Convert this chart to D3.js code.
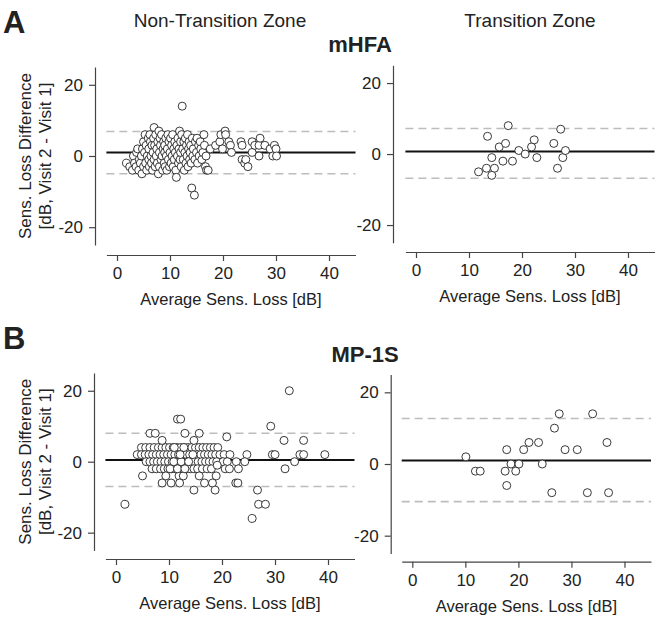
<!DOCTYPE html>
<html><head><meta charset="utf-8">
<script src="https://cdn.jsdelivr.net/npm/d3@7"></script>
<style>body{margin:0;background:#fff}svg{display:block;font-family:"Liberation Sans",Arial,sans-serif}</style>
</head><body><svg id="c" width="666" height="621"></svg>
<script>
// ---------- data ----------
const xTicks = [0, 10, 20, 30, 40];
const yTicks = [-20, 0, 20];
const xDomain = [-2, 45];
const yDomain = [-25, 25];

const mhfaNonTransition = [
[1.8,-2],[2.4,-3],[2.9,-4],[3.1,0],[3.3,-2],[3.6,-3],[3.7,1],[3.9,2],[4.1,-4],[4.2,-1],[4.4,-2],[4.6,0],[4.7,-5],[4.8,2],[5.0,4],[5.0,-3],[5.2,1],[5.3,6],[5.4,-2],[5.5,3],[5.6,-4],[5.7,0],[5.9,5],[6.0,2],[6.0,-1],[6.1,-3],[6.2,6],[6.3,4],[6.4,0],[6.5,-2],[6.6,3],[6.7,-4],[6.8,1],[6.9,5],[7.0,8],[7.0,-1],[7.1,3],[7.2,-3],[7.3,6],[7.4,0],[7.5,2],[7.6,-2],[7.7,4],[7.8,-5],[7.9,7],[8.0,1],[8.0,-3],[8.1,5],[8.2,3],[8.3,-1],[8.4,6],[8.5,0],[8.6,-4],[8.7,2],[8.8,4],[8.9,-2],[9.0,1],[9.0,3],[9.1,-3],[9.2,5],[9.3,0],[9.4,-4],[9.5,2],[9.6,6],[9.7,-1],[9.8,4],[9.9,-3],[10.0,1],[10.1,5],[10.2,-2],[10.3,3],[10.4,0],[10.5,6],[10.6,-3],[10.7,2],[10.8,-1],[10.9,4],[11.0,1],[11.1,-4],[11.2,-6],[11.3,3],[11.4,0],[11.5,5],[11.6,-2],[11.7,2],[11.8,7],[11.9,-1],[12.0,4],[12.0,1],[12.1,-3],[12.2,6],[12.3,14],[12.4,2],[12.5,-1],[12.6,4],[12.7,-4],[12.8,1],[12.9,5],[13.0,-2],[13.1,3],[13.2,0],[13.3,6],[13.4,-3],[13.5,2],[13.6,4],[13.7,-1],[13.8,1],[13.9,3],[14.0,-2],[14.1,-9],[14.2,5],[14.3,0],[14.4,2],[14.6,-11],[14.7,-1],[14.8,4],[15.0,1],[15.1,5],[15.2,-2],[15.4,3],[15.5,0],[15.7,4],[15.8,2],[16.0,-1],[16.2,1],[16.4,6],[16.5,3],[16.7,-3],[16.9,-4],[17.2,-4],[16.8,0],
[17.6,2],[18.6,3],[19.4,4],[19.6,6],[19.9,2],[20.4,7],[20.5,6],[21.1,4],[21.4,3],[21.6,1],[23.4,4],[23.6,3],[23.6,-1],[24.1,-2],[24.3,-1],[24.7,-3],[25.5,4],[25.5,1],[26.0,3],[26.8,3],[27.0,5],[26.8,0],[27.9,3],[28.9,2],[29.4,0],[29.7,3],[30.0,2],[30.1,0]
];

const mhfaTransition = [
[11.8,-5],[13.5,5],[13.3,-4],[14.3,-1],[14.8,-4],[14.3,-6],[15.7,2],[16.9,3],[16.4,-2],[17.4,8],[18.2,-2],[19.4,1],[20.6,0],[21.8,2],[22.3,4],[22.8,-1],[26.0,3],[27.3,7],[26.7,-4],[27.7,-1],[28.2,1]
];

const mp1sNonTransition = [
[4.8,4],[5.6,4],[6.4,4],[7.2,4],[8.0,4],[8.7,4],[9.4,4],[10.1,4],[10.8,4],[11.5,4],[12.2,4],[12.9,4],[13.6,4],[14.3,4],[15.0,4],[15.7,4],[16.4,4],[17.1,4],[17.8,4],[18.5,4],[19.2,4],
[4.0,2],[4.8,2],[5.5,2],[6.2,2],[6.9,2],[7.6,2],[8.3,2],[9.0,2],[9.7,2],[10.4,2],[11.1,2],[11.8,2],[12.5,2],[13.2,2],[13.9,2],[14.6,2],[15.3,2],[16.0,2],[16.7,2],[17.4,2],[18.1,2],[18.8,2],[19.6,2],[20.4,2],[21.5,2],[24.7,2],
[5.7,0],[6.4,0],[7.1,0],[7.8,0],[8.5,0],[9.2,0],[9.9,0],[10.6,0],[11.3,0],[12.0,0],[12.7,0],[13.4,0],[14.1,0],[14.8,0],[15.5,0],[16.2,0],[16.9,0],[17.6,0],[18.3,0],[19.0,0],[20.2,0],[21.0,0],[22.7,0],[24.3,0],
[6.8,-2],[7.6,-2],[8.4,-2],[9.1,-2],[9.8,-2],[10.5,-2],[11.2,-2],[11.9,-2],[12.6,-2],[13.3,-2],[14.0,-2],[14.7,-2],[15.4,-2],[16.3,-2],[17.2,-2],[18.0,-2],[19.1,-1],[20.6,-2],[21.4,-2],[23.1,-2],
[5.0,-4],[9.4,-4],[11.9,-4],[12.7,-4],[15.7,-4],[18.9,-4],
[10.9,0],[12.3,0],[13.7,0],[10.2,-2],[11.6,-2],[13.0,-2],[12.8,4],[11.0,4],[14.5,2],[12.1,2],
[1.7,-12],[6.4,8],[7.4,8],[8.7,6],[8.7,-6],[10.4,-6],[11.6,12],[12.2,12],[12.0,-6],[13.0,8],[14.7,6],[14.7,-8],[15.7,8],[16.7,-6],[18.2,-6],[18.7,-8],[20.9,7],[22.6,-6],[23.0,-6],[26.7,-8],[26.9,-12],[28.2,-12],[25.7,-16],[29.2,10],[29.5,2],[30.0,2],[31.7,6],[31.9,-2],[32.7,20],[33.7,0],[34.7,2],[35.4,2],[35.4,6],[39.4,2]
];

const mp1sTransition = [
[10.1,2],[11.9,-2],[12.8,-2],[17.5,-2],[17.8,4],[17.8,-6],[18.6,0],[19.5,-2],[20.1,0],[21.0,4],[22.0,6],[23.8,6],[24.5,0],[26.3,-8],[26.8,10],[27.7,14],[28.8,4],[31.1,4],[33.0,-8],[34.0,14],[36.7,6],[37.0,-8]
];

const meanDiff = [1, 0.7, 0.5, 1];
const upperLoA = [6.9, 7.2, 8, 12.7];
const lowerLoA = [-5, -6.8, -7, -10.5];

// ---------- layout ----------
const panels = [
  {data: mhfaNonTransition, xr:[106.4,355.5], yr:[245,67],  xAxisY:255,  yAxisX:95,  ylab:true},
  {data: mhfaTransition,    xr:[405.4,654.5], yr:[242.8,65.3], xAxisY:252, yAxisX:393, ylab:false},
  {data: mp1sNonTransition, xr:[105.4,354.5], yr:[550.4,373], xAxisY:559, yAxisX:94, ylab:true},
  {data: mp1sTransition,    xr:[401.7,651],   yr:[553.6,374.4], xAxisY:561.7, yAxisX:390.7, ylab:false}
];

const svg = d3.select("#c");
const axisCol = "#444";
const fmt = d => String(d);

panels.forEach((p, i) => {
  const x = d3.scaleLinear().domain(xDomain).range(p.xr);
  const y = d3.scaleLinear().domain(yDomain).range(p.yr);
  const g = svg.append("g");

  const xa = g.append("g").attr("transform", `translate(0,${p.xAxisY})`)
    .call(d3.axisBottom(x).tickValues(xTicks).tickFormat(fmt).tickSize(6).tickSizeOuter(0).tickPadding(6));
  const ya = g.append("g").attr("transform", `translate(${p.yAxisX},0)`)
    .call(d3.axisLeft(y).tickValues(yTicks).tickFormat(fmt).tickSize(6).tickSizeOuter(0).tickPadding(6));
  [xa, ya].forEach(a => {
    a.select(".domain").attr("stroke", axisCol).attr("stroke-width", 1.2);
    a.selectAll(".tick line").attr("stroke", axisCol).attr("stroke-width", 1.2);
    a.selectAll("text").attr("font-size", 17).attr("fill", "#222")
      .attr("font-family", "'Liberation Sans', Arial, sans-serif");
  });

  const x0 = p.xr[0], x1 = p.xr[1];
  [upperLoA[i], lowerLoA[i]].forEach(v => {
    g.append("line").attr("x1", x0).attr("x2", x1).attr("y1", y(v)).attr("y2", y(v))
      .attr("stroke", "#bdbdbd").attr("stroke-width", 1.6).attr("stroke-dasharray", "8,5");
  });
  g.append("line").attr("x1", x0).attr("x2", x1).attr("y1", y(meanDiff[i])).attr("y2", y(meanDiff[i]))
    .attr("stroke", "#111").attr("stroke-width", 2);

  g.selectAll("circle").data(p.data).join("circle")
    .attr("cx", d => x(d[0])).attr("cy", d => y(d[1])).attr("r", 4)
    .attr("fill", "#fff").attr("stroke", "#222").attr("stroke-width", 0.9);

  g.append("text").attr("x", (p.xr[0] + p.xr[1]) / 2).attr("y", p.xAxisY + 50)
    .attr("text-anchor", "middle").attr("font-size", 16.5).attr("fill", "#222")
    .text("Average Sens. Loss [dB]");

  if (p.ylab) {
    const cy = (p.yr[0] + p.yr[1]) / 2;
    const t = g.append("text").attr("transform", `translate(31,${cy}) rotate(-90)`)
      .attr("text-anchor", "middle").attr("font-size", 17).attr("fill", "#222");
    t.append("tspan").attr("x", 0).attr("dy", 0).text("Sens. Loss Difference");
    t.append("tspan").attr("x", 0).attr("dy", 20).text("[dB, Visit 2 - Visit 1]");
  }
});

const txt = (x, y, s, size, weight, anchor) => svg.append("text").attr("x", x).attr("y", y)
  .attr("font-size", size).attr("font-weight", weight || "normal").attr("fill", "#222")
  .attr("text-anchor", anchor || "middle").text(s);
txt(3, 33, "A", 31, "bold", "start");
txt(3, 349, "B", 31, "bold", "start");
txt(220, 27, "Non-Transition Zone", 19);
txt(530, 27, "Transition Zone", 19);
txt(360, 52, "mHFA", 22, "bold");
txt(365, 362, "MP-1S", 22, "bold");
</script></body></html>
